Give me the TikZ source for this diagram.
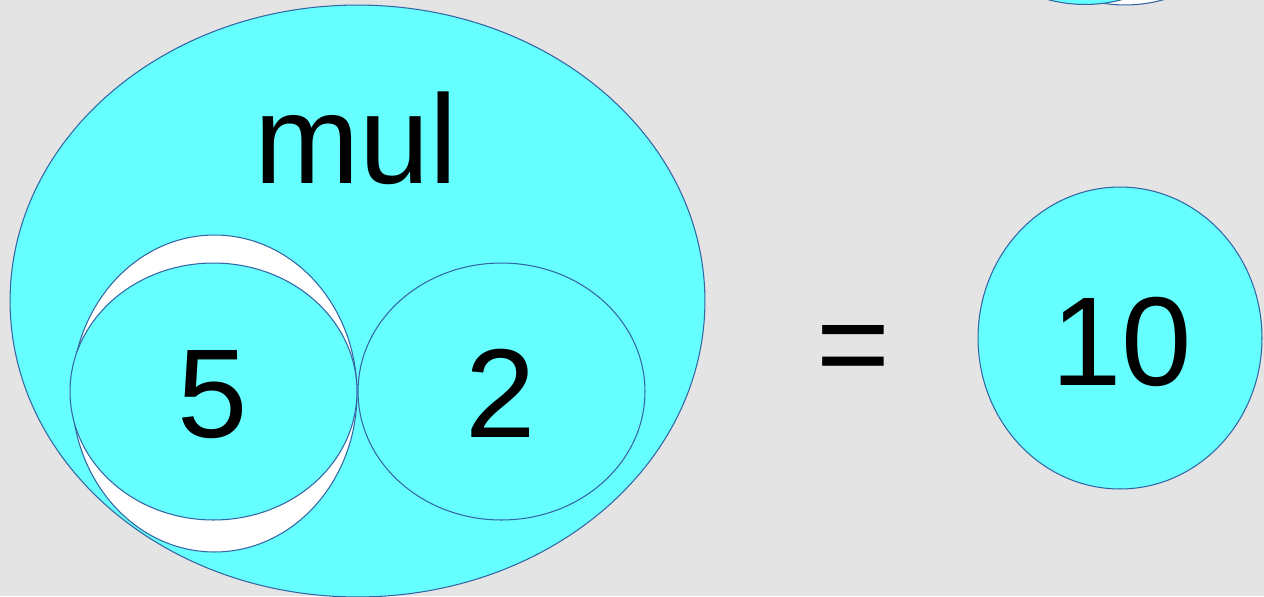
\documentclass[tikz,border=0pt]{standalone}
\usepackage{fontspec}
\setmainfont{Liberation Sans}
\usepackage{tikz}
\usetikzlibrary{positioning, shapes.geometric}

\definecolor{aqua}{RGB}{102,255,255}
\definecolor{rim}{RGB}{52,101,164}
\definecolor{marble}{RGB}{228,228,228}

\begin{document}
\begin{tikzpicture}[
  x=0.02cm, y=-0.02cm,
  font=\fontsize{72}{80}\selectfont,
  bubble/.style={ellipse, draw=rim, line width=0.6pt, fill=aqua, inner sep=0pt},
  hole/.style={ellipse, draw=rim, line width=0.6pt, fill=white, inner sep=0pt},
  word/.style={inner sep=0pt, anchor=base},
]
\useasboundingbox (0,0) rectangle (1264,596);
\fill[marble] (0,0) rectangle (1264,596);
\clip (0,0) rectangle (1264,596);

% partly hidden pair, top right
\node[hole, minimum width=6.8cm, minimum height=8.2cm] (topwhite) at (1125,-200) {};
\node[bubble, minimum width=6.8cm, minimum height=8.18cm] (topblue) at (1085,-200) {};

% mul with its two arguments
\node[bubble, minimum width=13.9cm, minimum height=11.84cm] (mulshape) at (357.5,301) {};
\node[word] (mul) at (356,183) {mul};
\node[hole, minimum width=5.7cm, minimum height=6.34cm] (fivewhite) at (214.5,393.5) {};
\node[bubble, minimum width=5.74cm, minimum height=5.14cm] (fiveshape) at (213.5,391.5) {};
\node[bubble, minimum width=5.74cm, minimum height=5.14cm] (twoshape) at (501.5,391.5) {};
\node[word] (five) at (213,437) {5};
\node[word] (two) at (501,437) {2};

% result
\node[word] (eq) at (853,387) {=};
\node[bubble, minimum width=5.68cm, minimum height=6.04cm] (tenshape) at (1120,338) {};
\node[word] (ten) at (1122,385) {10};
\end{tikzpicture}
\end{document}
